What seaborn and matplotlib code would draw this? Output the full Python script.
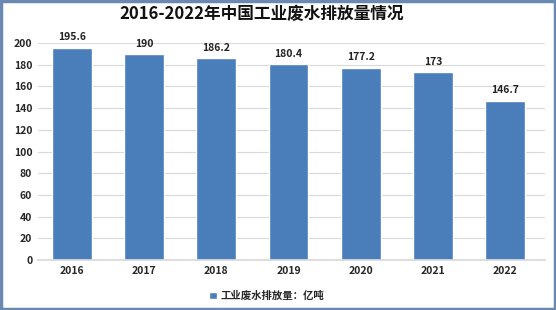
import matplotlib
matplotlib.use("Agg")
import matplotlib.pyplot as plt
import seaborn as sns
import pandas as pd
from matplotlib.patches import Rectangle

years = ["2016", "2017", "2018", "2019", "2020", "2021", "2022"]
values = [195.6, 190, 186.2, 180.4, 177.2, 173, 146.7]
value_labels = ["195.6", "190", "186.2", "180.4", "177.2", "173", "146.7"]
y_ticks = [0, 20, 40, 60, 80, 100, 120, 140, 160, 180, 200]
title = "2016-2022年中国工业废水排放量情况"
legend_label = "工业废水排放量：亿吨"

sns.set_theme(style="white")
plt.rcParams['font.family'] = ['Noto Sans CJK SC', 'DejaVu Sans']

df = pd.DataFrame({"year": years, "value": values})
color = "#4a7ebb"

fig = plt.figure(figsize=(5.56, 3.10), dpi=100)
ax = fig.add_axes([0.068, 0.161, 0.912, 0.700])
sns.barplot(data=df, x="year", y="value", color=color, width=0.55,
            saturation=1, ax=ax, label=legend_label)
handles, labels = ax.get_legend_handles_labels()
if ax.get_legend() is not None:
    ax.get_legend().remove()
ax.set_ylim(0, 200)
ax.set_yticks(y_ticks)
ax.set_yticklabels([str(t) for t in y_ticks], fontsize=7.5, fontweight='bold')
ax.set_xticks(range(len(years)))
ax.set_xticklabels(years, fontsize=7.5, fontweight='bold')
ax.set_xlabel("")
ax.set_ylabel("")
ax.yaxis.grid(True, color="#d9d9d9", linewidth=0.8)
ax.set_axisbelow(True)
for s in ["top", "right", "left"]:
    ax.spines[s].set_visible(False)
ax.spines["bottom"].set_color("#d9d9d9")
ax.tick_params(axis='both', length=0, pad=4)
ax.set_xlim(-0.47, 6.55)

for i, (v, lab) in enumerate(zip(values, value_labels)):
    ax.text(i, v + 5, lab, ha='center', va='bottom', fontsize=7.5, fontweight='bold', color='#222222')

fig.text(0.47, 0.955, title, ha='center', va='center', fontsize=12, fontweight='bold', color='#111111')

fig.legend(handles, labels, loc='center', bbox_to_anchor=(0.48, 0.045), frameon=False,
           handlelength=0.7, handleheight=0.7, handletextpad=0.4,
           prop={'weight': 'bold', 'size': 7.5})

fig.patches.append(Rectangle((0.002, 0.003), 0.996, 0.994, transform=fig.transFigure,
                             fill=False, edgecolor="#6a89b0", linewidth=2.5))

fig.savefig("out.png", dpi=100)
